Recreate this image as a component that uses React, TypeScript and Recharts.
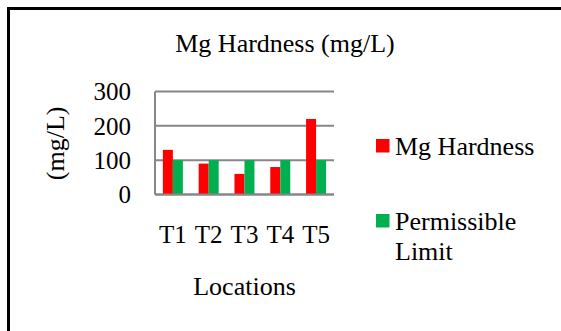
import { BarChart, Bar, XAxis, YAxis, CartesianGrid } from "recharts";

const locations = ["T1", "T2", "T3", "T4", "T5"];
const mgHardness = [130, 90, 60, 80, 220];
const permissibleLimit = [100, 100, 100, 100, 100];
const yTicks = [0, 100, 200, 300];

const series = [
  { key: "mg", name: "Mg Hardness", color: "#FF0000" },
  { key: "limit", name: "Permissible Limit", color: "#00B050" },
];

const data = locations.map((loc, i) => ({
  name: loc,
  mg: mgHardness[i],
  limit: permissibleLimit[i],
}));

const FONT = "Liberation Serif";
const GRID = "#878787";

export default function App() {
  return (
    <div
      style={{
        position: "fixed",
        left: 0,
        top: 0,
        width: 561,
        height: 331,
        background: "#fff",
        fontFamily: FONT,
      }}
    >
      {/* frame: only top and left edges show */}
      <div
        style={{
          position: "absolute",
          left: 7,
          top: 7,
          right: -10,
          bottom: -10,
          borderTop: "3px solid #000",
          borderLeft: "3px solid #000",
        }}
      />
      <BarChart
        width={561}
        height={331}
        data={data}
        margin={{ top: 91.5, right: 227, bottom: 106.5, left: 95 }}
        barCategoryGap="22%"
        barGap={0}
        style={{ position: "absolute", left: 0, top: 0 }}
      >
        <CartesianGrid vertical={false} stroke={GRID} strokeWidth={2} />
        <XAxis
          dataKey="name"
          height={30}
          tickLine={false}
          tickSize={0}
          tickMargin={30.5}
          axisLine={{ stroke: GRID, strokeWidth: 2 }}
          tick={{ fill: "#000", fontSize: 25, fontFamily: FONT }}
          interval={0}
        />
        <YAxis
          width={60}
          domain={[0, 300]}
          ticks={yTicks}
          tickLine={false}
          tickSize={0}
          tickMargin={24}
          axisLine={{ stroke: GRID, strokeWidth: 2 }}
          tick={{ fill: "#000", fontSize: 25, fontFamily: FONT }}
        />
        {series.map((s) => (
          <Bar
            key={s.key}
            dataKey={s.key}
            name={s.name}
            fill={s.color}
            isAnimationActive={false}
          />
        ))}
      </BarChart>
      <svg
        width={561}
        height={331}
        style={{ position: "absolute", left: 0, top: 0, pointerEvents: "none" }}
      >
        <text x={285} y={51.7} textAnchor="middle" fontSize={26} fill="#000" fontFamily={FONT}>
          Mg Hardness (mg/L)
        </text>
        <text
          x={64}
          y={143.3}
          textAnchor="middle"
          fontSize={26}
          fill="#000"
          fontFamily={FONT}
          transform="rotate(-90, 64, 143.3)"
        >
          (mg/L)
        </text>
        <text x={244.5} y={295} textAnchor="middle" fontSize={26} fill="#000" fontFamily={FONT}>
          Locations
        </text>
        {/* legend */}
        <rect x={376} y={139} width={13.5} height={13.5} fill={series[0].color} />
        <text x={395} y={155} fontSize={26} fill="#000" fontFamily={FONT}>
          Mg Hardness
        </text>
        <rect x={376} y={214} width={13.5} height={13.5} fill={series[1].color} />
        <text x={395} y={230} fontSize={26} fill="#000" fontFamily={FONT}>
          Permissible
        </text>
        <text x={395} y={259.5} fontSize={26} fill="#000" fontFamily={FONT}>
          Limit
        </text>
      </svg>
    </div>
  );
}
